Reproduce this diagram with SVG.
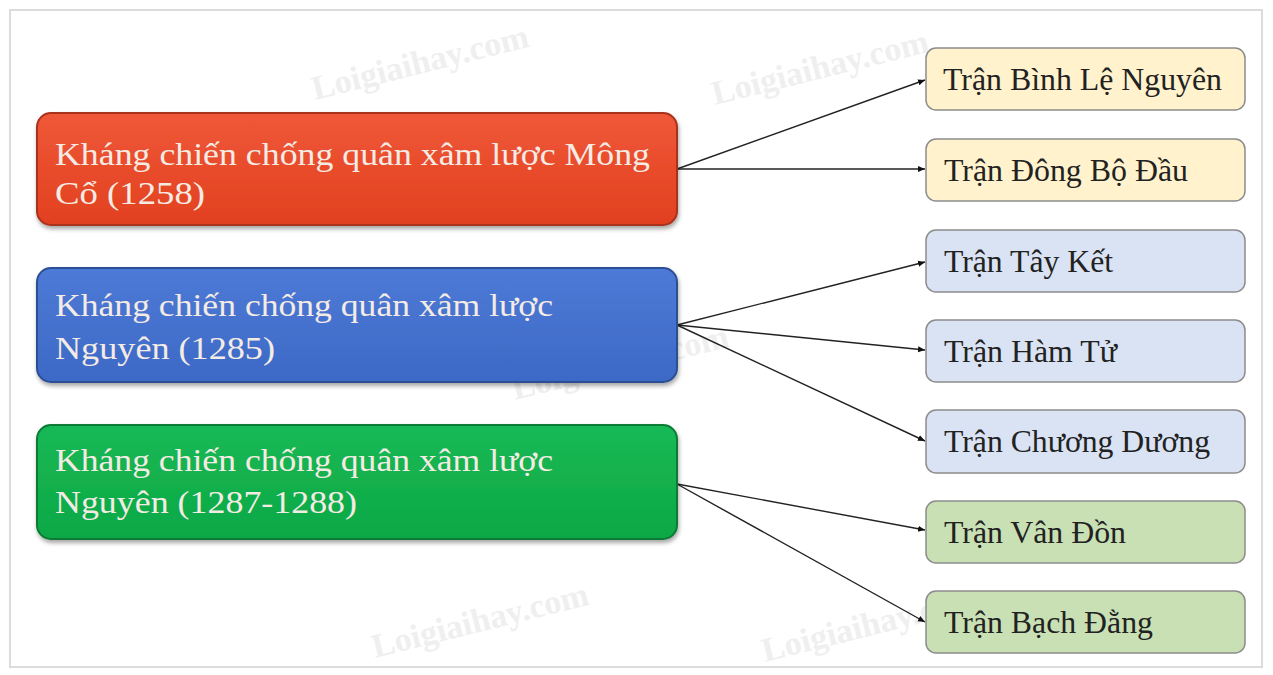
<svg xmlns="http://www.w3.org/2000/svg" width="1273" height="675" viewBox="0 0 1273 675">
<defs>
<style>
.mt{font-family:"Liberation Serif","DejaVu Serif",serif;font-size:32px;fill:#f4ebe4;}
.lf{stroke:#8c8c8c;stroke-width:1.5;}
.lt{font-family:"Liberation Serif","DejaVu Serif",serif;font-size:31px;fill:#222;}
.con{stroke:#222;stroke-width:1.4;fill:none;marker-end:url(#ah);}
.wm{font-family:"Liberation Serif",serif;font-weight:bold;font-size:34px;fill:#efefef;}
</style>
<marker id="ah" markerWidth="8" markerHeight="8" refX="7" refY="4" orient="auto" markerUnits="userSpaceOnUse">
<path d="M0,1 L7,4 L0,7 Z" fill="#111"/>
</marker>
<linearGradient id="gr" x1="0" y1="0" x2="0" y2="1"><stop offset="0" stop-color="#ef5838"/><stop offset="1" stop-color="#e2401f"/></linearGradient>
<linearGradient id="gb" x1="0" y1="0" x2="0" y2="1"><stop offset="0" stop-color="#4d7ad6"/><stop offset="1" stop-color="#3d69c6"/></linearGradient>
<linearGradient id="gg" x1="0" y1="0" x2="0" y2="1"><stop offset="0" stop-color="#16b956"/><stop offset="1" stop-color="#0ea845"/></linearGradient>
<filter id="sh" x="-5%" y="-10%" width="110%" height="130%"><feDropShadow dx="1" dy="3" stdDeviation="2" flood-color="#000" flood-opacity="0.35"/></filter>
</defs>
<rect width="1273" height="675" fill="#ffffff"/>
<rect x="10" y="10" width="1252" height="657" fill="#ffffff" stroke="#dcdcdc" stroke-width="2"/>
<g id="watermarks">
<text class="wm" x="315" y="100" transform="rotate(-14 315 100)">Loigiaihay.com</text>
<text class="wm" x="715" y="105" transform="rotate(-14 715 105)">Loigiaihay.com</text>
<text class="wm" x="515" y="400" transform="rotate(-14 515 400)">Loigiaihay.com</text>
<text class="wm" x="375" y="658" transform="rotate(-14 375 658)">Loigiaihay.com</text>
<text class="wm" x="765" y="662" transform="rotate(-14 765 662)">Loigiaihay.com</text>
</g>
<g id="connectors">
<line class="con" x1="677" y1="169" x2="925" y2="80"/>
<line class="con" x1="677" y1="169" x2="925" y2="169"/>
<line class="con" x1="677" y1="325" x2="925" y2="262"/>
<line class="con" x1="677" y1="325" x2="925" y2="350"/>
<line class="con" x1="677" y1="325" x2="925" y2="441"/>
<line class="con" x1="677" y1="484" x2="925" y2="530"/>
<line class="con" x1="677" y1="484" x2="925" y2="622"/>
</g>
<g id="n-mongco">
<rect x="37" y="113" width="640" height="112" rx="14" fill="url(#gr)" stroke="#a8321a" stroke-width="2" filter="url(#sh)"/>
<text class="mt" x="55" y="165" textLength="595" lengthAdjust="spacingAndGlyphs">Kháng chiến chống quân xâm lược Mông</text>
<text class="mt" x="55" y="204" textLength="150" lengthAdjust="spacingAndGlyphs">Cổ (1258)</text>
</g>
<g id="n-nguyen1285">
<rect x="37" y="268" width="640" height="114" rx="14" fill="url(#gb)" stroke="#2c4f95" stroke-width="2" filter="url(#sh)"/>
<text class="mt" x="55" y="316" textLength="498" lengthAdjust="spacingAndGlyphs">Kháng chiến chống quân xâm lược</text>
<text class="mt" x="55" y="359" textLength="220" lengthAdjust="spacingAndGlyphs">Nguyên (1285)</text>
</g>
<g id="n-nguyen1287">
<rect x="37" y="425" width="640" height="114" rx="14" fill="url(#gg)" stroke="#0b7a35" stroke-width="2" filter="url(#sh)"/>
<text class="mt" x="55" y="471" textLength="498" lengthAdjust="spacingAndGlyphs">Kháng chiến chống quân xâm lược</text>
<text class="mt" x="55" y="513" textLength="302" lengthAdjust="spacingAndGlyphs">Nguyên (1287-1288)</text>
</g>
<g id="n-binhle">
<rect class="lf" x="926" y="48" width="319" height="62" rx="10" fill="#fff2cc"/>
<text class="lt" x="943" y="90" textLength="279" lengthAdjust="spacingAndGlyphs">Trận Bình Lệ Nguyên</text>
</g>
<g id="n-dongbodau">
<rect class="lf" x="926" y="139" width="319" height="62" rx="10" fill="#fff2cc"/>
<text class="lt" x="944" y="181" textLength="244" lengthAdjust="spacingAndGlyphs">Trận Đông Bộ Đầu</text>
</g>
<g id="n-tayket">
<rect class="lf" x="926" y="230" width="319" height="62" rx="10" fill="#dae3f3"/>
<text class="lt" x="944" y="272" textLength="169" lengthAdjust="spacingAndGlyphs">Trận Tây Kết</text>
</g>
<g id="n-hamtu">
<rect class="lf" x="926" y="320" width="319" height="62" rx="10" fill="#dae3f3"/>
<text class="lt" x="944" y="362" textLength="173" lengthAdjust="spacingAndGlyphs">Trận Hàm Tử</text>
</g>
<g id="n-chuongduong">
<rect class="lf" x="926" y="410" width="319" height="63" rx="10" fill="#dae3f3"/>
<text class="lt" x="944" y="452" textLength="266" lengthAdjust="spacingAndGlyphs">Trận Chương Dương</text>
</g>
<g id="n-vandon">
<rect class="lf" x="926" y="501" width="319" height="62" rx="10" fill="#c9e0b5"/>
<text class="lt" x="944" y="543" textLength="182" lengthAdjust="spacingAndGlyphs">Trận Vân Đồn</text>
</g>
<g id="n-bachdang">
<rect class="lf" x="926" y="591" width="319" height="62" rx="10" fill="#c9e0b5"/>
<text class="lt" x="944" y="633" textLength="209" lengthAdjust="spacingAndGlyphs">Trận Bạch Đằng</text>
</g>
</svg>
